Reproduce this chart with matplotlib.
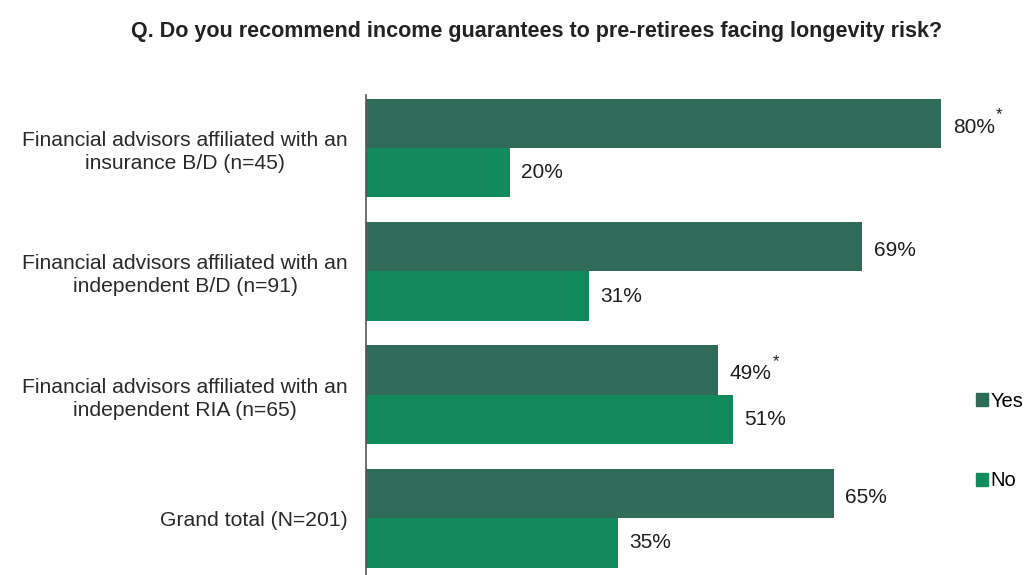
import numpy as np
import matplotlib.pyplot as plt
from matplotlib.patches import Patch

plt.rcParams['font.family'] = ['Liberation Sans', 'DejaVu Sans']

categories = ['Financial advisors affiliated with an\ninsurance B/D (n=45)',
              'Financial advisors affiliated with an\nindependent B/D (n=91)',
              'Financial advisors affiliated with an\nindependent RIA (n=65)',
              'Grand total (N=201)']
yes = [80, 69, 49, 65]
no = [20, 31, 51, 35]
yes_marks = ['*', '', '*', '']

yes_color = '#2f6b58'
no_color = '#138a5e'

fig = plt.figure(figsize=(10.29, 5.75), dpi=100)
ax = fig.add_axes([366 / 1029, 0, 633 / 1029, 480 / 575])

y = np.arange(len(categories))
h = 0.4
ax.barh(y - h / 2, yes, height=h, color=yes_color, label='Yes')
ax.barh(y + h / 2, no, height=h, color=no_color, label='No')

for i in range(len(categories)):
    ax.text(yes[i] + 1.6, y[i] - h / 2 + 0.03, f'{yes[i]}%', va='center', ha='left',
            fontsize=15, color='#1e1e1e')
    if yes_marks[i]:
        ax.text(yes[i] + 7.5, y[i] - h / 2 - 0.07, yes_marks[i], va='center', ha='left',
                fontsize=12, color='#1e1e1e')
    ax.text(no[i] + 1.6, y[i] + h / 2, f'{no[i]}%', va='center', ha='left',
            fontsize=15, color='#1e1e1e')

ax.set_xlim(0, 88)
ax.set_ylim(3.46, -0.43)
ax.set_yticks(y)
ax.set_yticklabels(categories, fontsize=15.2, color='#2a2a2a',
                   multialignment='center', linespacing=1.25)
ax.tick_params(axis='y', length=0, pad=13)
ax.set_xticks([])
for s in ['top', 'right', 'bottom']:
    ax.spines[s].set_visible(False)
ax.spines['left'].set_color('#555555')
ax.spines['left'].set_linewidth(1.2)

fig.text(537 / 1029, 1 - 32 / 575,
         'Q. Do you recommend income guarantees to pre-retirees facing longevity risk?',
         ha='center', va='center', fontsize=15.5, fontweight='bold', color='#222222')

handles = [Patch(color=yes_color, label='Yes'), Patch(color=no_color, label='No')]
fig.legend(handles=handles, loc='center left', bbox_to_anchor=(966 / 1029, 1 - 441 / 575),
           frameon=False, fontsize=14.5, handlelength=0.6, handleheight=0.6,
           handletextpad=0.1, labelspacing=3.0, borderpad=0)

fig.savefig('out.png', dpi=100)
